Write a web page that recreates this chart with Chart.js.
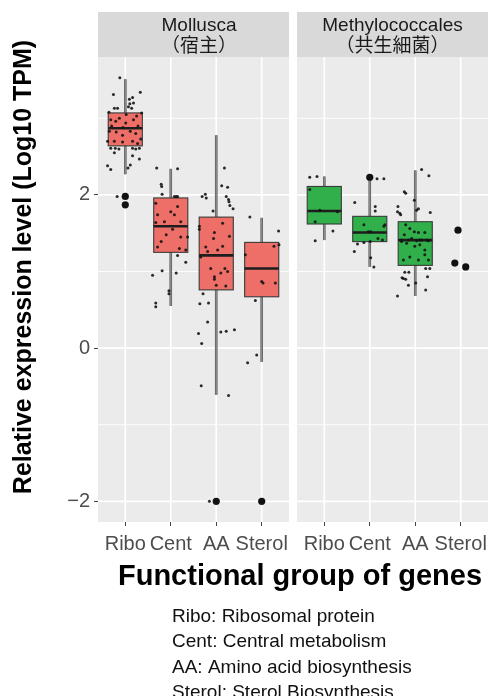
<!DOCTYPE html>
<html>
<head>
<meta charset="utf-8">
<script src="https://cdn.jsdelivr.net/npm/chart.js@4/dist/chart.umd.min.js"></script>
<style>
html,body{margin:0;padding:0;background:#fff;}
canvas{display:block;}
</style>
</head>
<body>
<canvas id="c" width="496" height="696"></canvas>
<script>
// ---------- data ----------
const categories = ['Ribo', 'Cent', 'AA', 'Sterol'];
const facetTitles = [['Mollusca', '（宿主）'], ['Methylococcales', '（共生細菌）']];
const yTickValues = [-2, 0, 2];
const yMinorValues = [-1, 1, 3];
const xAxisTitle = 'Functional group of genes';
const yAxisTitle = 'Relative expression level (Log10 TPM)';
const footnotes = ['Ribo: Ribosomal protein', 'Cent: Central metabolism', 'AA: Amino acid biosynthesis', 'Sterol: Sterol Biosynthesis'];

// box statistics, per category (Ribo, Cent, AA, Sterol)
const molluscaWhiskerLow  = [2.27, 0.55, -0.61, -0.18];
const molluscaQ1          = [2.64, 1.25, 0.76, 0.67];
const molluscaMedian      = [2.87, 1.59, 1.21, 1.04];
const molluscaQ3          = [3.07, 1.96, 1.71, 1.38];
const molluscaWhiskerHigh = [3.51, 2.34, 2.78, 1.70];

const methyloWhiskerLow  = [1.41, 1.06, 0.68, null];
const methyloQ1          = [1.62, 1.39, 1.08, null];
const methyloMedian      = [1.79, 1.51, 1.41, null];
const methyloQ3          = [2.11, 1.72, 1.65, null];
const methyloWhiskerHigh = [2.24, 2.20, 2.32, null];

// outliers (category index, value, jitter)
const molluscaOutlierCat = [0, 0, 2, 3];
const molluscaOutlierVal = [1.98, 1.87, -2.0, -2.0];
const molluscaOutlierJit = [0, 0, 0, 0];
const methyloOutlierCat = [1, 3, 3, 3];
const methyloOutlierVal = [2.23, 1.54, 1.11, 1.06];
const methyloOutlierJit = [0, -0.06, -0.13, 0.11];

// jittered gene points: values and horizontal jitter
const molluscaRiboVal = [3.53,3.31,3.34,3.25,3.27,3.20,3.19,3.15,3.13,3.13,3.13,2.98,2.96,3.00,2.94,2.98,3.03,2.83,2.82,2.78,2.83,2.80,2.73,2.70,2.70,2.69,2.70,2.67,2.61,2.61,2.60,2.61,2.60,2.61,2.55,2.51,2.47,2.38,2.33,2.35,2.39,1.98,3.05,2.88,2.90,2.90,3.08,3.07];
const molluscaRiboJit = [-0.12,-0.26,0.33,0.09,0.16,0.18,0.10,0.07,-0.24,-0.17,0.14,-0.32,-0.21,-0.13,0.01,0.18,0.25,-0.35,-0.20,-0.06,0.11,0.23,0.34,-0.39,-0.24,-0.06,0.16,0.27,-0.32,-0.22,-0.14,0.16,0.23,0.31,-0.24,0.16,0.31,-0.39,-0.32,0.06,0.11,-0.18,0.02,-0.05,0.28,-0.30,-0.36,0.36];
const molluscaCentVal = [2.35,2.34,2.14,2.11,2.01,1.98,1.98,1.98,1.89,1.78,1.85,1.74,1.74,1.65,1.64,1.65,1.55,1.48,1.39,1.45,1.45,1.32,1.30,1.28,1.21,1.12,1.01,0.95,0.98,0.75,0.71,0.59,0.54];
const molluscaCentJit = [-0.31,0.15,-0.21,-0.20,-0.19,0.08,0.12,0.15,-0.33,0.00,0.15,0.08,-0.29,-0.14,-0.33,0.22,0.04,-0.10,-0.21,0.22,0.37,-0.29,0.19,0.33,0.15,0.33,-0.19,-0.40,0.12,-0.04,-0.04,-0.33,-0.33];
const molluscaAAVal = [2.35,2.12,2.10,1.98,2.01,1.96,1.98,1.94,1.91,1.86,1.82,1.79,1.59,1.55,1.63,1.51,1.43,1.46,1.32,1.26,1.28,1.33,1.19,1.04,0.98,1.04,1.00,0.93,0.90,0.82,0.81,0.71,0.58,0.59,0.34,0.19,0.21,0.22,0.24,0.06,-0.49,-0.62,-2.0];
const molluscaAAJit = [0.18,0.12,0.25,-0.31,-0.24,-0.22,0.22,0.27,0.28,0.30,0.37,-0.07,-0.37,-0.37,0.14,-0.04,-0.06,0.29,-0.23,-0.19,0.03,0.14,-0.34,-0.12,0.10,0.19,0.25,-0.04,-0.04,0.00,0.21,-0.29,-0.36,-0.17,-0.19,-0.39,0.10,0.22,0.40,-0.32,-0.33,0.27,-0.15];
const molluscaSterolVal = [1.71,1.53,1.35,1.33,1.22,0.87,0.85,0.85,0.62,-0.09,-0.19];
const molluscaSterolJit = [-0.26,0.37,0.38,0.27,-0.36,0.00,0.03,0.30,-0.14,-0.11,-0.31];

const methyloRiboVal = [2.23,2.24,2.07,1.80,1.78,1.65,1.53,1.40];
const methyloRiboJit = [-0.32,-0.16,-0.32,-0.10,0.29,-0.20,0.19,-0.20];
const methyloCentVal = [2.21,2.21,1.90,1.85,1.79,1.61,1.59,1.61,1.52,1.52,1.43,1.41,1.36,1.38,1.39,1.26,1.18,1.06];
const methyloCentJit = [0.16,0.31,-0.33,0.12,0.12,-0.13,0.31,0.33,-0.03,0.02,0.18,0.28,-0.27,-0.13,0.01,-0.34,0.02,0.09];
const methyloAAVal = [2.33,2.25,2.04,2.02,1.93,1.85,1.78,1.76,1.74,1.80,1.82,1.77,1.61,1.56,1.52,1.51,1.51,1.48,1.43,1.40,1.41,1.40,1.39,1.37,1.33,1.35,1.28,1.19,1.15,1.15,1.22,1.15,1.41,1.41,1.41,1.41,1.04,1.04,0.99,0.99,0.92,0.91,0.90,0.93,0.85,0.82,0.76,0.68];
const methyloAAJit = [0.14,0.30,-0.24,-0.21,-0.02,-0.38,-0.39,-0.34,-0.32,0.03,0.07,0.33,-0.21,-0.12,-0.02,0.07,0.21,-0.24,-0.08,0.03,0.14,0.29,-0.30,-0.19,-0.01,0.10,0.21,-0.12,-0.26,0.07,0.21,0.29,-0.30,-0.15,0.10,0.25,0.23,0.32,-0.14,-0.23,-0.29,-0.26,-0.21,0.27,0.01,-0.15,0.23,-0.39];
const methyloSterolVal = [];
const methyloSterolJit = [];

// ---------- layout constants ----------
const PANEL_GAP = 0.176;            // gap between facets, in category units
const EXPAND = 0.6;                 // discrete-axis expansion
const FACET_START = [0, 4 - 1 + 2 * EXPAND + PANEL_GAP];
const X_MIN = -EXPAND;
const X_MAX = FACET_START[1] + 3 + EXPAND;
const Y_MIN = -2.27, Y_MAX = 3.80;
const BOX_HALF = 0.375;
const FACET_COLORS = ['#EE6F67', '#30AF4A'];

const facetBoxes = [
  {lo: molluscaWhiskerLow, q1: molluscaQ1, med: molluscaMedian, q3: molluscaQ3, hi: molluscaWhiskerHigh},
  {lo: methyloWhiskerLow, q1: methyloQ1, med: methyloMedian, q3: methyloQ3, hi: methyloWhiskerHigh}
];
const facetPoints = [
  [[molluscaRiboVal, molluscaRiboJit], [molluscaCentVal, molluscaCentJit], [molluscaAAVal, molluscaAAJit], [molluscaSterolVal, molluscaSterolJit]],
  [[methyloRiboVal, methyloRiboJit], [methyloCentVal, methyloCentJit], [methyloAAVal, methyloAAJit], [methyloSterolVal, methyloSterolJit]]
];
const facetOutliers = [
  [molluscaOutlierCat, molluscaOutlierVal, molluscaOutlierJit],
  [methyloOutlierCat, methyloOutlierVal, methyloOutlierJit]
];

const smallPts = [];
facetPoints.forEach((cats, f) => cats.forEach(([vals, jits], c) => vals.forEach((v, i) => {
  smallPts.push({x: FACET_START[f] + c + jits[i], y: v});
})));
const bigPts = [];
facetOutliers.forEach(([cs, vs, js], f) => cs.forEach((c, i) => {
  bigPts.push({x: FACET_START[f] + c + js[i], y: vs[i]});
}));

const tickPositions = [];
const tickLabels = [];
FACET_START.forEach(s => categories.forEach((c, i) => { tickPositions.push(s + i); tickLabels.push(c); }));

const FONT = "'Liberation Sans', Arial, 'Noto Sans CJK JP', sans-serif";

const facetPlugin = {
  id: 'facets',
  beforeDatasetsDraw(chart) {
    const {ctx, chartArea: a, scales: {x, y}} = chart;
    ctx.save();
    FACET_START.forEach((s, f) => {
      const l = x.getPixelForValue(s - EXPAND), r = x.getPixelForValue(s + 3 + EXPAND);
      ctx.fillStyle = '#EBEBEB';
      ctx.fillRect(l, a.top, r - l, a.bottom - a.top);
      ctx.strokeStyle = '#FFFFFF';
      ctx.lineWidth = 0.9;
      yMinorValues.forEach(v => {
        const py = y.getPixelForValue(v);
        ctx.beginPath(); ctx.moveTo(l, py); ctx.lineTo(r, py); ctx.stroke();
      });
      ctx.lineWidth = 1.7;
      yTickValues.forEach(v => {
        const py = y.getPixelForValue(v);
        ctx.beginPath(); ctx.moveTo(l, py); ctx.lineTo(r, py); ctx.stroke();
      });
      categories.forEach((c, i) => {
        const px = x.getPixelForValue(s + i);
        ctx.beginPath(); ctx.moveTo(px, a.top); ctx.lineTo(px, a.bottom); ctx.stroke();
      });
      // boxes
      const b = facetBoxes[f];
      categories.forEach((c, i) => {
        if (b.med[i] == null) return;
        const cx = x.getPixelForValue(s + i);
        const bl = x.getPixelForValue(s + i - BOX_HALF), br = x.getPixelForValue(s + i + BOX_HALF);
        const pLo = y.getPixelForValue(b.lo[i]), pQ1 = y.getPixelForValue(b.q1[i]);
        const pMed = y.getPixelForValue(b.med[i]), pQ3 = y.getPixelForValue(b.q3[i]);
        const pHi = y.getPixelForValue(b.hi[i]);
        ctx.strokeStyle = '#555555';
        ctx.lineWidth = 2.6;
        ctx.beginPath(); ctx.moveTo(cx, pHi); ctx.lineTo(cx, pLo); ctx.stroke();
        ctx.strokeStyle = '#8C8C8C';
        ctx.lineWidth = 1.4;
        ctx.beginPath(); ctx.moveTo(cx, pHi); ctx.lineTo(cx, pLo); ctx.stroke();
        ctx.fillStyle = FACET_COLORS[f];
        ctx.fillRect(bl, pQ3, br - bl, pQ1 - pQ3);
        ctx.strokeStyle = '#3A3A3A';
        ctx.lineWidth = 1.1;
        ctx.strokeRect(bl, pQ3, br - bl, pQ1 - pQ3);
        ctx.strokeStyle = '#1E1E1E';
        ctx.lineWidth = 2.6;
        ctx.beginPath(); ctx.moveTo(bl, pMed); ctx.lineTo(br, pMed); ctx.stroke();
      });
    });
    ctx.restore();
  },
  afterDraw(chart) {
    const {ctx, chartArea: a, scales: {x}} = chart;
    ctx.save();
    // strips
    const stripTop = 12;
    const stripTextX = [199, null];
    FACET_START.forEach((s, f) => {
      const l = x.getPixelForValue(s - EXPAND), r = x.getPixelForValue(s + 3 + EXPAND);
      ctx.fillStyle = '#D9D9D9';
      ctx.fillRect(l, stripTop, r - l, a.top - stripTop);
      ctx.fillStyle = '#1A1A1A';
      ctx.font = '19px ' + FONT;
      ctx.textAlign = 'center';
      ctx.textBaseline = 'alphabetic';
      const cx = stripTextX[f] != null ? stripTextX[f] : (l + r) / 2;
      ctx.fillText(facetTitles[f][0], cx, 31);
      ctx.fillText(facetTitles[f][1], cx, 52);
    });
    // x title
    ctx.fillStyle = '#000';
    ctx.font = 'bold 29px ' + FONT;
    ctx.textAlign = 'center';
    ctx.fillText(xAxisTitle, 300, 585);
    // y title
    ctx.save();
    ctx.translate(31, 267);
    ctx.rotate(-Math.PI / 2);
    ctx.font = 'bold 25px ' + FONT;
    ctx.textAlign = 'center';
    ctx.fillText(yAxisTitle, 0, 0);
    ctx.restore();
    // footnote
    ctx.font = '19px ' + FONT;
    ctx.textAlign = 'left';
    ctx.fillStyle = '#111';
    footnotes.forEach((t, i) => ctx.fillText(t, 172, 622 + i * 25.3));
    ctx.restore();
  }
};

new Chart(document.getElementById('c'), {
  type: 'scatter',
  data: {
    datasets: [
      {data: bigPts, pointRadius: 3.6, pointBackgroundColor: '#111', pointBorderWidth: 0, pointHoverRadius: 3.6},
      {data: smallPts, pointRadius: 1.5, pointBackgroundColor: 'rgba(20,20,20,0.9)', pointBorderWidth: 0, pointHoverRadius: 1.5}
    ]
  },
  options: {
    responsive: false,
    devicePixelRatio: 1,
    animation: false,
    events: [],
    layout: {padding: {left: 0, right: 8, top: 57, bottom: 129}},
    plugins: {legend: {display: false}, tooltip: {enabled: false}},
    scales: {
      x: {
        type: 'linear', min: X_MIN, max: X_MAX,
        afterBuildTicks: s => { s.ticks = tickPositions.map(v => ({value: v})); },
        afterFit: s => { s.height = 45; },
        ticks: {
          autoSkip: false, maxRotation: 0, padding: 6,
          color: '#4D4D4D', font: {size: 20, family: FONT},
          callback: (v, i) => tickLabels[i]
        },
        grid: {display: true, drawOnChartArea: false, drawTicks: true, tickLength: 4, color: '#444', lineWidth: 1},
        border: {display: false}
      },
      y: {
        min: Y_MIN, max: Y_MAX,
        afterBuildTicks: s => { s.ticks = yTickValues.map(v => ({value: v})); },
        afterFit: s => { s.width = 98; },
        ticks: {
          padding: 4, color: '#4D4D4D', font: {size: 20, family: FONT},
          callback: v => (v < 0 ? '\u2212' + Math.abs(v) : String(v))
        },
        grid: {display: true, drawOnChartArea: false, drawTicks: true, tickLength: 4, color: '#444', lineWidth: 1},
        border: {display: false}
      }
    }
  },
  plugins: [facetPlugin]
});
</script>
</body>
</html>
